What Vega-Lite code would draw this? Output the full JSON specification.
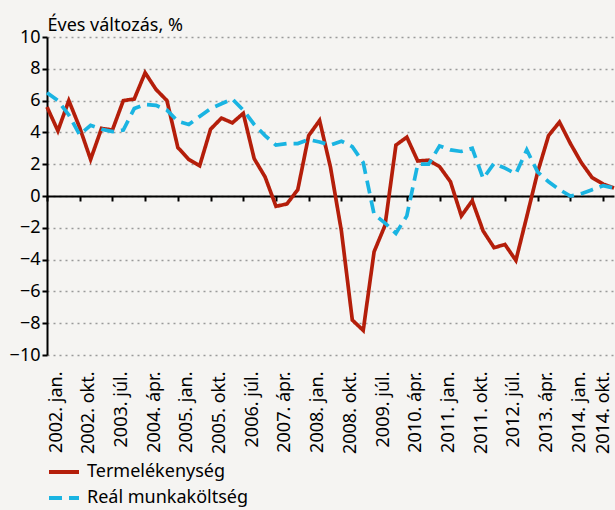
{
  "$schema": "https://vega.github.io/schema/vega-lite/v6.json",
  "width": 567,
  "height": 318,
  "autosize": "none",
  "padding": {"left": 47, "top": 37, "right": 1, "bottom": 155},
  "background": "#F5F4F2",
  "config": {"view": {"stroke": null}, "font": "Noto Sans"},
  "data": {"values": [
    {"q":"2002. jan.","s":"Termelékenység","v":5.6},{"q":"2002. ápr.","s":"Termelékenység","v":4.1},{"q":"2002. júl.","s":"Termelékenység","v":6.0},{"q":"2002. okt.","s":"Termelékenység","v":4.3},
    {"q":"2003. jan.","s":"Termelékenység","v":2.3},{"q":"2003. ápr.","s":"Termelékenység","v":4.25},{"q":"2003. júl.","s":"Termelékenység","v":4.15},{"q":"2003. okt.","s":"Termelékenység","v":6.0},
    {"q":"2004. jan.","s":"Termelékenység","v":6.1},{"q":"2004. ápr.","s":"Termelékenység","v":7.75},{"q":"2004. júl.","s":"Termelékenység","v":6.7},{"q":"2004. okt.","s":"Termelékenység","v":6.0},
    {"q":"2005. jan.","s":"Termelékenység","v":3.05},{"q":"2005. ápr.","s":"Termelékenység","v":2.3},{"q":"2005. júl.","s":"Termelékenység","v":1.9},{"q":"2005. okt.","s":"Termelékenység","v":4.2},
    {"q":"2006. jan.","s":"Termelékenység","v":4.9},{"q":"2006. ápr.","s":"Termelékenység","v":4.6},{"q":"2006. júl.","s":"Termelékenység","v":5.2},{"q":"2006. okt.","s":"Termelékenység","v":2.35},
    {"q":"2007. jan.","s":"Termelékenység","v":1.2},{"q":"2007. ápr.","s":"Termelékenység","v":-0.65},{"q":"2007. júl.","s":"Termelékenység","v":-0.5},{"q":"2007. okt.","s":"Termelékenység","v":0.4},
    {"q":"2008. jan.","s":"Termelékenység","v":3.8},{"q":"2008. ápr.","s":"Termelékenység","v":4.75},{"q":"2008. júl.","s":"Termelékenység","v":1.8},{"q":"2008. okt.","s":"Termelékenység","v":-2.2},
    {"q":"2009. jan.","s":"Termelékenység","v":-7.8},{"q":"2009. ápr.","s":"Termelékenység","v":-8.45},{"q":"2009. júl.","s":"Termelékenység","v":-3.5},{"q":"2009. okt.","s":"Termelékenység","v":-1.85},
    {"q":"2010. jan.","s":"Termelékenység","v":3.2},{"q":"2010. ápr.","s":"Termelékenység","v":3.7},{"q":"2010. júl.","s":"Termelékenység","v":2.2},{"q":"2010. okt.","s":"Termelékenység","v":2.25},
    {"q":"2011. jan.","s":"Termelékenység","v":1.85},{"q":"2011. ápr.","s":"Termelékenység","v":0.9},{"q":"2011. júl.","s":"Termelékenység","v":-1.25},{"q":"2011. okt.","s":"Termelékenység","v":-0.3},
    {"q":"2012. jan.","s":"Termelékenység","v":-2.2},{"q":"2012. ápr.","s":"Termelékenység","v":-3.25},{"q":"2012. júl.","s":"Termelékenység","v":-3.05},{"q":"2012. okt.","s":"Termelékenység","v":-4.05},
    {"q":"2013. jan.","s":"Termelékenység","v":-1.3},{"q":"2013. ápr.","s":"Termelékenység","v":1.5},{"q":"2013. júl.","s":"Termelékenység","v":3.8},{"q":"2013. okt.","s":"Termelékenység","v":4.65},
    {"q":"2014. jan.","s":"Termelékenység","v":3.3},{"q":"2014. ápr.","s":"Termelékenység","v":2.1},{"q":"2014. júl.","s":"Termelékenység","v":1.15},{"q":"2014. okt.","s":"Termelékenység","v":0.75},
    {"q":"2015. jan.","s":"Termelékenység","v":0.5},
    {"q":"2002. jan.","s":"Reál munkaköltség","v":6.5},{"q":"2002. ápr.","s":"Reál munkaköltség","v":6.0},{"q":"2002. júl.","s":"Reál munkaköltség","v":5.1},{"q":"2002. okt.","s":"Reál munkaköltség","v":3.85},
    {"q":"2003. jan.","s":"Reál munkaköltség","v":4.45},{"q":"2003. ápr.","s":"Reál munkaköltség","v":4.2},{"q":"2003. júl.","s":"Reál munkaköltség","v":4.05},{"q":"2003. okt.","s":"Reál munkaköltség","v":4.15},
    {"q":"2004. jan.","s":"Reál munkaköltség","v":5.5},{"q":"2004. ápr.","s":"Reál munkaköltség","v":5.75},{"q":"2004. júl.","s":"Reál munkaköltség","v":5.7},{"q":"2004. okt.","s":"Reál munkaköltség","v":5.4},
    {"q":"2005. jan.","s":"Reál munkaköltség","v":4.7},{"q":"2005. ápr.","s":"Reál munkaköltség","v":4.5},{"q":"2005. júl.","s":"Reál munkaköltség","v":5.0},{"q":"2005. okt.","s":"Reál munkaköltség","v":5.5},
    {"q":"2006. jan.","s":"Reál munkaköltség","v":5.8},{"q":"2006. ápr.","s":"Reál munkaköltség","v":6.1},{"q":"2006. júl.","s":"Reál munkaköltség","v":5.4},{"q":"2006. okt.","s":"Reál munkaköltség","v":4.5},
    {"q":"2007. jan.","s":"Reál munkaköltség","v":3.8},{"q":"2007. ápr.","s":"Reál munkaköltség","v":3.2},{"q":"2007. júl.","s":"Reál munkaköltség","v":3.3},{"q":"2007. okt.","s":"Reál munkaköltség","v":3.3},
    {"q":"2008. jan.","s":"Reál munkaköltség","v":3.55},{"q":"2008. ápr.","s":"Reál munkaköltség","v":3.4},{"q":"2008. júl.","s":"Reál munkaköltség","v":3.2},{"q":"2008. okt.","s":"Reál munkaköltség","v":3.45},
    {"q":"2009. jan.","s":"Reál munkaköltség","v":3.1},{"q":"2009. ápr.","s":"Reál munkaköltség","v":2.1},{"q":"2009. júl.","s":"Reál munkaköltség","v":-1.15},{"q":"2009. okt.","s":"Reál munkaköltség","v":-1.7},
    {"q":"2010. jan.","s":"Reál munkaköltség","v":-2.35},{"q":"2010. ápr.","s":"Reál munkaköltség","v":-1.25},{"q":"2010. júl.","s":"Reál munkaköltség","v":2.0},{"q":"2010. okt.","s":"Reál munkaköltség","v":2.0},
    {"q":"2011. jan.","s":"Reál munkaköltség","v":3.15},{"q":"2011. ápr.","s":"Reál munkaköltség","v":2.9},{"q":"2011. júl.","s":"Reál munkaköltség","v":2.8},{"q":"2011. okt.","s":"Reál munkaköltség","v":3.0},
    {"q":"2012. jan.","s":"Reál munkaköltség","v":1.1},{"q":"2012. ápr.","s":"Reál munkaköltség","v":2.05},{"q":"2012. júl.","s":"Reál munkaköltség","v":1.75},{"q":"2012. okt.","s":"Reál munkaköltség","v":1.4},
    {"q":"2013. jan.","s":"Reál munkaköltség","v":2.9},{"q":"2013. ápr.","s":"Reál munkaköltség","v":1.5},{"q":"2013. júl.","s":"Reál munkaköltség","v":0.9},{"q":"2013. okt.","s":"Reál munkaköltség","v":0.4},
    {"q":"2014. jan.","s":"Reál munkaköltség","v":0.0},{"q":"2014. ápr.","s":"Reál munkaköltség","v":0.15},{"q":"2014. júl.","s":"Reál munkaköltség","v":0.4},{"q":"2014. okt.","s":"Reál munkaköltség","v":0.65},
    {"q":"2015. jan.","s":"Reál munkaköltség","v":0.5}
  ]},
  "layer": [
    {
      "mark": {"type": "point", "opacity": 0},
      "encoding": {
        "x": {"field": "q", "type": "ordinal", "sort": null, "scale": {"type": "point", "padding": 0},
          "axis": {"orient": "bottom", "offset": -159, "labels": false, "title": null, "grid": false,
            "values": ["2002. jan.","2002. okt.","2003. júl.","2004. ápr.","2005. jan.","2005. okt.","2006. júl.","2007. ápr.","2008. jan.","2008. okt.","2009. júl.","2010. ápr.","2011. jan.","2011. okt.","2012. júl.","2013. ápr.","2014. jan.","2014. okt."],
            "domainColor": "#000000", "domainWidth": 2, "tickColor": "#000000", "tickWidth": 2, "tickSize": 5}},
        "y": {"field": "v", "type": "quantitative", "scale": {"domain": [-10, 10], "nice": false},
          "axis": {"values": [-10,-8,-6,-4,-2,0,2,4,6,8,10], "title": "Éves változás, %", "titleAngle": 0, "titleAlign": "left", "titleBaseline": "alphabetic", "titleX": 0, "titleY": -7, "titleFontSize": 18, "titleFontWeight": "normal", "titleColor": "#000000",
            "labelFontSize": 18, "labelColor": "#000000", "labelPadding": 2, "domainColor": "#000000", "domainWidth": 2, "tickColor": "#000000", "tickWidth": 2, "tickSize": 5,
            "grid": true, "gridColor": "#9a9a9a", "gridDash": [2, 4], "gridWidth": 1.5}}
      }
    },
    {
      "mark": {"type": "line", "strokeWidth": 3.7},
      "encoding": {
        "x": {"field": "q", "type": "ordinal", "sort": null, "scale": {"type": "point", "padding": 0},
          "axis": {"orient": "bottom", "title": null, "domain": false, "ticks": false, "grid": false, "labelAngle": -90, "labelAlign": "right",
            "labelBaseline": {"condition": {"test": "datum.value === '2014. okt.'", "value": "middle"}, "value": "top"},
            "labelPadding": 16, "labelFontSize": 18, "labelColor": "#000000", "labelOverlap": false, "labelLimit": 0,
            "values": ["2002. jan.","2002. okt.","2003. júl.","2004. ápr.","2005. jan.","2005. okt.","2006. júl.","2007. ápr.","2008. jan.","2008. okt.","2009. júl.","2010. ápr.","2011. jan.","2011. okt.","2012. júl.","2013. ápr.","2014. jan.","2014. okt."]}},
        "y": {"field": "v", "type": "quantitative", "scale": {"domain": [-10, 10], "nice": false},
          "axis": {"values": [-10,-8,-6,-4,-2,0,2,4,6,8,10], "title": "Éves változás, %", "titleAngle": 0, "titleAlign": "left", "titleBaseline": "alphabetic", "titleX": 0, "titleY": -7, "titleFontSize": 18, "titleFontWeight": "normal", "titleColor": "#000000",
            "labelFontSize": 18, "labelColor": "#000000", "labelPadding": 2, "domainColor": "#000000", "domainWidth": 2, "tickColor": "#000000", "tickWidth": 2, "tickSize": 5,
            "grid": true, "gridColor": "#9a9a9a", "gridDash": [2, 4], "gridWidth": 1.5}},
        "color": {"field": "s", "type": "nominal", "scale": {"domain": ["Termelékenység", "Reál munkaköltség"], "range": ["#B41E0A", "#1AB4E2"]},
          "legend": {"title": null, "orient": "none", "legendX": 0, "legendY": 418, "padding": 0, "symbolType": "stroke", "symbolSize": 900, "symbolStrokeWidth": 4, "labelFontSize": 18, "labelColor": "#000000", "labelOffset": 6, "labelLimit": 0, "rowPadding": -10}},
        "strokeDash": {"field": "s", "type": "nominal", "scale": {"domain": ["Termelékenység", "Reál munkaköltség"], "range": [[1, 0], [13, 7]]},
          "legend": {"title": null, "orient": "none", "legendX": 0, "legendY": 418, "padding": 0, "symbolType": "stroke", "symbolSize": 900, "symbolStrokeWidth": 4, "labelFontSize": 18, "labelColor": "#000000", "labelOffset": 6, "labelLimit": 0, "rowPadding": -10}}
      }
    }
  ],
  "resolve": {"axis": {"x": "independent"}}
}
